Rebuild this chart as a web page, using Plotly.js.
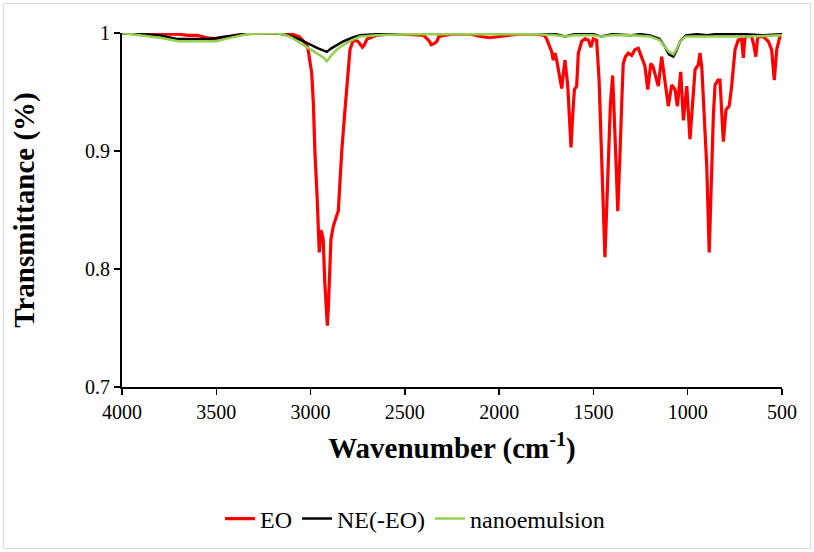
<!DOCTYPE html>
<html>
<head>
<meta charset="utf-8">
<script src="https://cdn.plot.ly/plotly-3.0.1.min.js"></script>
<style>
  html, body { margin: 0; padding: 0; background: #fff; }
  #frame { position: absolute; left: 3px; top: 3px; width: 806px; height: 544px; border: 1px solid #d9d9d9; }
  #chart { position: absolute; left: 0; top: 0; width: 814px; height: 552px; }
</style>
</head>
<body>
<div id="frame"></div>
<div id="chart"></div>
<script>
// EO
const eoWave = [4000,3900,3800,3700,3650,3600,3550,3500,3450,3400,3350,3300,3200,3100,3060,3040,3020,3012,2994,2985,2977,2965,2959,2954,2950,2945,2940,2933,2925,2918,2911,2905,2898,2892,2880,2870,2860,2853,2845,2835,2820,2808,2800,2791,2773,2750,2735,2725,2715,2700,2650,2600,2500,2400,2370,2360,2345,2330,2320,2250,2150,2100,2050,2000,1950,1900,1800,1760,1748,1735,1721,1713,1704,1695,1681,1668,1660,1651,1636,1628,1619,1610,1601,1589,1580,1562,1545,1527,1513,1501,1483,1470,1456,1447,1439,1430,1421,1410,1398,1388,1380,1371,1365,1359,1350,1342,1330,1315,1297,1280,1262,1244,1227,1212,1196,1185,1173,1156,1138,1120,1103,1085,1067,1055,1037,1023,1005,988,974,961,944,935,925,917,908,899,886,879,873,864,855,840,829,820,811,797,780,767,749,732,714,705,697,687,661,650,639,630,626,599,573,555,541,528,511,500];
const eoT = [1.0,0.999,0.999,0.999,0.998,0.998,0.996,0.995,0.996,0.998,0.999,1.0,1.0,0.999,0.997,0.993,0.990,0.985,0.966,0.94,0.899,0.86,0.836,0.814,0.822,0.833,0.830,0.825,0.79,0.765,0.752,0.77,0.80,0.825,0.836,0.842,0.846,0.849,0.875,0.899,0.93,0.955,0.972,0.986,0.994,0.993,0.99,0.988,0.99,0.995,0.998,0.999,0.999,0.998,0.993,0.990,0.991,0.993,0.997,0.999,0.999,0.997,0.996,0.997,0.998,0.999,0.999,0.998,0.995,0.99,0.984,0.977,0.983,0.977,0.964,0.953,0.965,0.977,0.955,0.93,0.903,0.93,0.952,0.955,0.983,0.993,0.995,0.994,0.988,0.995,0.994,0.96,0.898,0.85,0.81,0.85,0.898,0.94,0.964,0.93,0.89,0.849,0.87,0.898,0.94,0.974,0.98,0.983,0.981,0.986,0.987,0.980,0.972,0.952,0.974,0.972,0.964,0.955,0.980,0.957,0.938,0.956,0.952,0.938,0.967,0.926,0.955,0.910,0.943,0.969,0.973,0.983,0.97,0.946,0.92,0.887,0.814,0.85,0.887,0.93,0.956,0.96,0.960,0.935,0.908,0.935,0.938,0.955,0.986,0.994,0.995,0.979,0.995,0.998,0.997,0.99,0.980,0.995,0.997,0.997,0.993,0.986,0.960,0.986,0.997,1.0];

// NE(-EO)
const neWave = [4000,3900,3800,3710,3657,3600,3533,3450,3392,3339,3200,3145,3100,3050,3003,2960,2930,2914,2890,2860,2826,2780,2738,2650,2500,2000,1800,1700,1650,1600,1500,1460,1400,1300,1250,1200,1150,1120,1100,1076,1060,1040,1010,950,900,850,700,600,500];
const neT = [1.0,0.999,0.998,0.995,0.995,0.995,0.995,0.997,0.998,1.0,1.0,0.999,0.997,0.994,0.990,0.987,0.985,0.984,0.987,0.99,0.993,0.996,0.998,0.999,1.0,1.0,1.0,0.999,0.997,0.999,0.999,0.997,0.999,0.998,0.999,0.998,0.995,0.988,0.982,0.980,0.985,0.993,0.998,0.999,0.998,0.999,0.999,0.998,0.999];

// nanoemulsion
const nanoWave = [4000,3900,3800,3700,3600,3500,3450,3400,3339,3200,3145,3100,3050,3003,2960,2930,2914,2890,2860,2826,2780,2738,2650,2500,2000,1800,1700,1650,1600,1500,1460,1400,1300,1200,1150,1120,1100,1076,1060,1040,1010,900,700,500];
const nanoT = [1.0,0.998,0.996,0.993,0.993,0.993,0.995,0.997,0.999,1.0,0.999,0.996,0.991,0.987,0.982,0.979,0.976,0.981,0.986,0.99,0.994,0.997,0.998,0.999,0.999,0.999,0.998,0.997,0.998,0.998,0.997,0.998,0.998,0.997,0.994,0.988,0.984,0.982,0.986,0.993,0.997,0.997,0.997,0.998];

const xTicks = [4000,3500,3000,2500,2000,1500,1000,500];
const yTicks = [0.7,0.8,0.9,1];
const yTickText = ['0.7','0.8','0.9','1'];

const traces = [
  {x: eoWave, y: eoT, name: 'EO', type: 'scatter', mode: 'lines', line: {color: '#ff0000', width: 3.2}},
  {x: neWave, y: neT, name: 'NE(-EO)', type: 'scatter', mode: 'lines', line: {color: '#000000', width: 2.5}},
  {x: nanoWave, y: nanoT, name: 'nanoemulsion', type: 'scatter', mode: 'lines', line: {color: '#92d050', width: 2.5}}
];

const font = 'Liberation Serif';
const layout = {
  width: 814, height: 552,
  margin: {l: 122, r: 32, t: 33, b: 164},
  paper_bgcolor: 'rgba(0,0,0,0)', plot_bgcolor: 'rgba(0,0,0,0)',
  font: {family: font, color: '#000', size: 20},
  showlegend: true,
  legend: {orientation: 'h', x: 0.444, xanchor: 'center', y: -0.369, yanchor: 'middle', font: {family: font, size: 24, color: '#000'}, tracegroupgap: 0},
  xaxis: {
    range: [4000, 500], tickvals: xTicks, ticktext: xTicks.map(String),
    showgrid: false, zeroline: false, showline: true, linecolor: '#000', linewidth: 2,
    ticks: 'outside', ticklen: 6, tickwidth: 1.5, tickcolor: '#000',
    tickfont: {family: font, size: 20, color: '#000'},
    title: {text: '<b>Wavenumber (cm<sup>-1</sup>)</b>', font: {family: font, size: 29, color: '#000'}, standoff: 16}
  },
  yaxis: {
    range: [0.7, 1], tickvals: yTicks, ticktext: yTickText,
    showgrid: false, zeroline: false, showline: true, linecolor: '#000', linewidth: 2,
    ticks: 'outside', ticklen: 6, tickwidth: 1.5, tickcolor: '#000',
    tickfont: {family: font, size: 20, color: '#000'},
    title: {text: '<b>Transmittance (%)</b>', font: {family: font, size: 29, color: '#000'}, standoff: 42}
  }
};

Plotly.newPlot('chart', traces, layout, {displayModeBar: false, staticPlot: true});
</script>
</body>
</html>
